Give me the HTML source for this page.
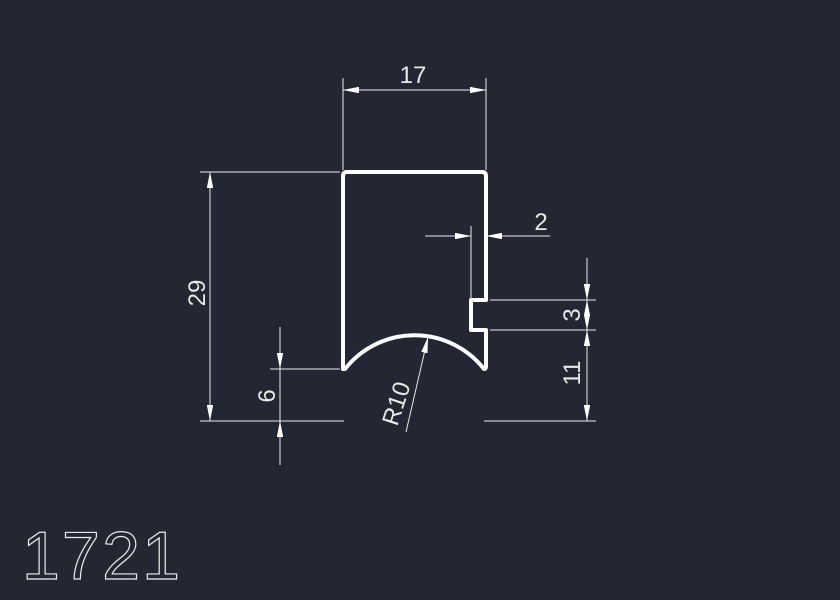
<!DOCTYPE html>
<html><head><meta charset="utf-8"><style>
html,body{margin:0;padding:0;background:#222733;}
svg{display:block}
text{font-family:"Liberation Sans",sans-serif;fill:#e8e8e8;}
</style></head><body>
<svg width="840" height="600" viewBox="0 0 840 600" xmlns="http://www.w3.org/2000/svg">
<rect width="840" height="600" fill="#222733"/>
<defs>
<marker id="a" viewBox="0 0 10 4" refX="10" refY="2" markerWidth="16" markerHeight="6.4" markerUnits="userSpaceOnUse" orient="auto-start-reverse">
<path d="M0,0 L10,2 L0,4 Z" fill="#fff"/></marker>
</defs>
<path d="M343,369 L343,176 Q343,172 347,172 L482,172 Q486,172 486,176 L486,300 L471,300 L471,330 L486,330 L486,366 Q486,369 484,369 A88.5,88.5 0 0 0 345,369 Z" fill="none" stroke="#fff" stroke-width="4" stroke-linejoin="round"/>
<g stroke="#e8e8e8" stroke-width="1" fill="none">
<line x1="343" y1="78" x2="343" y2="170"/>
<line x1="486" y1="78" x2="486" y2="170"/>
<line x1="343" y1="90" x2="486" y2="90" marker-start="url(#a)" marker-end="url(#a)"/>
<line x1="200" y1="172" x2="340" y2="172"/>
<line x1="200" y1="421" x2="344" y2="421"/>
<line x1="210" y1="172" x2="210" y2="421" marker-start="url(#a)" marker-end="url(#a)"/>
<line x1="270" y1="369" x2="340" y2="369"/>
<line x1="280" y1="327" x2="280" y2="369" marker-end="url(#a)"/>
<line x1="280" y1="465" x2="280" y2="421" marker-end="url(#a)"/>
<line x1="280" y1="369" x2="280" y2="421"/>
<line x1="471" y1="226" x2="471" y2="298"/>
<line x1="425" y1="236" x2="471" y2="236" marker-end="url(#a)"/>
<line x1="550" y1="236" x2="486" y2="236" marker-end="url(#a)"/>
<line x1="490" y1="300" x2="596" y2="300"/>
<line x1="490" y1="330" x2="596" y2="330"/>
<line x1="484" y1="421" x2="596" y2="421"/>
<line x1="587" y1="258" x2="587" y2="300" marker-end="url(#a)"/>
<line x1="587" y1="300" x2="587" y2="330" marker-start="url(#a)" marker-end="url(#a)"/>
<line x1="587" y1="330" x2="587" y2="421" marker-start="url(#a)" marker-end="url(#a)"/>
<line x1="406" y1="432" x2="428" y2="337" marker-end="url(#a)"/>
</g>
<text x="413" y="83" font-size="24" text-anchor="middle">17</text>
<text x="541" y="230" font-size="24" text-anchor="middle">2</text>
<text transform="translate(205,293) rotate(-90)" font-size="24" text-anchor="middle">29</text>
<text transform="translate(275,396) rotate(-90)" font-size="24" text-anchor="middle">6</text>
<text transform="translate(580,315) rotate(-90)" font-size="24" text-anchor="middle">3</text>
<text transform="translate(580,373) rotate(-90)" font-size="24" text-anchor="middle">11</text>
<text transform="translate(404,406) rotate(-72)" font-size="24" text-anchor="middle">R10</text>
<text x="22" y="579" font-size="68" textLength="158" lengthAdjust="spacing" style="fill:none;stroke:#e8e8e8;stroke-width:1.2">1721</text>
</svg>
</body></html>
